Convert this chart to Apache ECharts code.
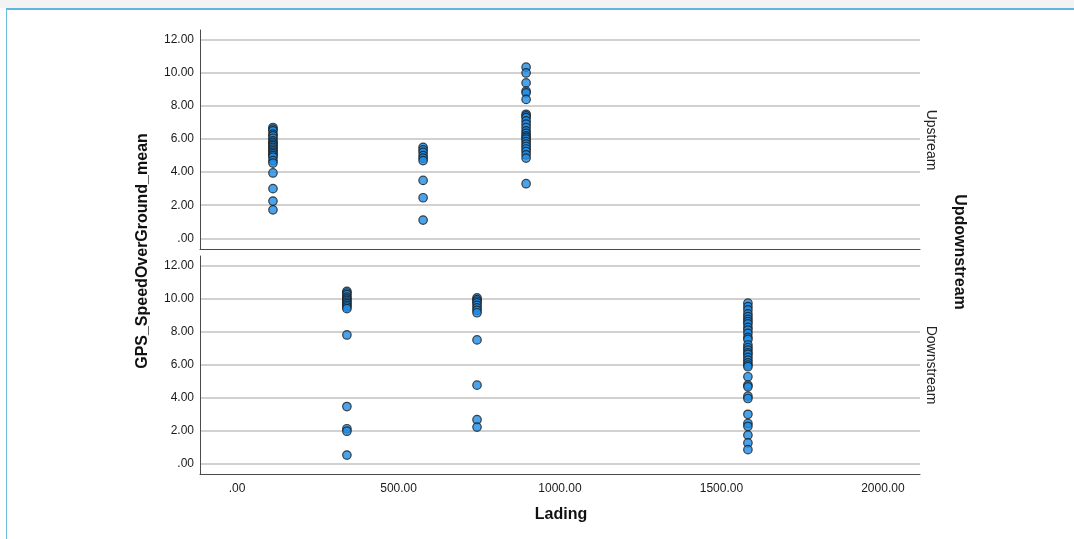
<!DOCTYPE html>
<html><head><meta charset="utf-8">
<script src="https://cdn.jsdelivr.net/npm/echarts@6/dist/echarts.min.js"></script>
<style>html,body{margin:0;padding:0;background:#fff}#c{width:1074px;height:539px}</style>
</head><body><div id="c"></div><script>
// ---- data ----
const xTickValues = [0, 500, 1000, 1500, 2000];
const yTickValues = [0, 2, 4, 6, 8, 10, 12];
const panelNames = ['Upstream', 'Downstream'];
const xTitle = 'Lading';
const yTitle = 'GPS_SpeedOverGround_mean';
const panelTitle = 'Updownstream';

const upLading = [111, 576, 895];
const upSpeedA = [6.7, 6.6, 6.5, 6.3, 6.2, 6.05, 5.9, 5.8, 5.7, 5.6, 5.5, 5.4, 5.3, 5.2, 5.1, 5.0, 4.9, 4.7, 4.55, 3.95, 3.0, 2.25, 1.72];
const upSpeedB = [5.5, 5.35, 5.2, 5.0, 4.85, 4.7, 3.5, 2.45, 1.1];
const upSpeedC = [10.35, 10.0, 9.4, 8.9, 8.8, 8.4, 7.5, 7.4, 7.3, 7.1, 6.9, 6.7, 6.5, 6.35, 6.2, 6.1, 6.0, 5.85, 5.7, 5.55, 5.4, 5.25, 5.05, 4.85, 3.3];

const downLading = [340, 743, 1582];
const downSpeedA = [10.45, 10.35, 10.25, 10.1, 10.0, 9.9, 9.8, 9.7, 9.6, 9.5, 9.4, 7.8, 3.45, 2.1, 1.95, 0.5];
const downSpeedB = [10.05, 9.95, 9.85, 9.75, 9.6, 9.45, 9.3, 9.15, 7.5, 4.75, 2.65, 2.2];
const downSpeedC = [9.73, 9.52, 9.32, 9.08, 8.91, 8.75, 8.61, 8.47, 8.26, 8.1, 7.9, 7.66, 7.53, 7.19, 7.03, 6.88, 6.72, 6.62, 6.44, 6.27, 6.11, 5.97, 5.87, 5.26, 4.75, 4.65, 4.08, 3.94, 2.98, 2.42, 2.25, 1.71, 1.24, 0.83];

// ---- build ----
function pairs(ladings, groups) {
  const out = [];
  groups.forEach((g, i) => g.forEach(v => out.push([ladings[i], v])));
  return out;
}
const upData = pairs(upLading, [upSpeedA, upSpeedB, upSpeedC]);
const downData = pairs(downLading, [downSpeedA, downSpeedB, downSpeedC]);

function fmt(v) { return v === 0 ? '.00' : Number(v).toFixed(2); }

const FONT = '"Liberation Sans", Arial, sans-serif';
const gridCommon = { left: 200, right: 154 };
function xAxisDef(idx, showLabels) {
  return {
    type: 'value', gridIndex: idx, min: -115, max: 2115,
    axisLine: { show: true, onZero: false, lineStyle: { color: '#4a4a4a', width: 1 } },
    axisTick: { show: false, customValues: xTickValues },
    splitLine: { show: false },
    axisLabel: { show: showLabels, customValues: xTickValues, formatter: fmt, color: '#1a1a1a', fontSize: 12, fontFamily: FONT, margin: 9 }
  };
}
function yAxisDef(idx) {
  return {
    type: 'value', gridIndex: idx, min: -0.65, max: 12.6,
    axisLine: { show: true, onZero: false, lineStyle: { color: '#4a4a4a', width: 1 } },
    axisTick: { show: false, customValues: yTickValues },
    splitLine: { show: true, lineStyle: { color: '#c2c2c2', width: 1.5 } },
    axisLabel: { customValues: yTickValues, formatter: fmt, color: '#1a1a1a', fontSize: 12, fontFamily: FONT, margin: 6 }
  };
}
const markerStyle = { color: '#1e8ce6', borderColor: '#1a1a1a', borderWidth: 1.2 };

const chart = echarts.init(document.getElementById('c'), null, { renderer: 'canvas' });
chart.setOption({
  animation: false,
  backgroundColor: '#ffffff',
  grid: [
    Object.assign({ top: 30, height: 219 }, gridCommon),
    Object.assign({ top: 256, height: 218 }, gridCommon)
  ],
  xAxis: [xAxisDef(0, false), xAxisDef(1, true)],
  yAxis: [yAxisDef(0), yAxisDef(1)],
  series: [
    { type: 'scatter', xAxisIndex: 0, yAxisIndex: 0, data: upData, symbolSize: 8.5, itemStyle: markerStyle },
    { type: 'scatter', xAxisIndex: 1, yAxisIndex: 1, data: downData, symbolSize: 8.5, itemStyle: markerStyle }
  ],
  graphic: [
    { type: 'rect', shape: { x: 0, y: 0, width: 1074, height: 8 }, style: { fill: '#f3f3f3' }, silent: true },
    { type: 'line', shape: { x1: 6, y1: 9, x2: 1074, y2: 9 }, style: { stroke: '#2b9fd2', lineWidth: 1.5 }, silent: true },
    { type: 'line', shape: { x1: 6.5, y1: 9, x2: 6.5, y2: 539 }, style: { stroke: '#6dbde2', lineWidth: 1 }, silent: true },
    { type: 'text', x: 143, y: 251, rotation: Math.PI / 2,
      style: { text: yTitle, font: 'bold 16px ' + FONT, fill: '#111', align: 'center', verticalAlign: 'middle' } },
    { type: 'text', x: 561, y: 515,
      style: { text: xTitle, font: 'bold 16px ' + FONT, fill: '#111', align: 'center', verticalAlign: 'middle' } },
    { type: 'text', x: 959, y: 252, rotation: -Math.PI / 2,
      style: { text: panelTitle, font: 'bold 16px ' + FONT, fill: '#111', align: 'center', verticalAlign: 'middle' } },
    { type: 'text', x: 931, y: 140, rotation: -Math.PI / 2,
      style: { text: panelNames[0], font: '14px ' + FONT, fill: '#222', align: 'center', verticalAlign: 'middle' } },
    { type: 'text', x: 931, y: 365, rotation: -Math.PI / 2,
      style: { text: panelNames[1], font: '14px ' + FONT, fill: '#222', align: 'center', verticalAlign: 'middle' } }
  ]
});
</script></body></html>
